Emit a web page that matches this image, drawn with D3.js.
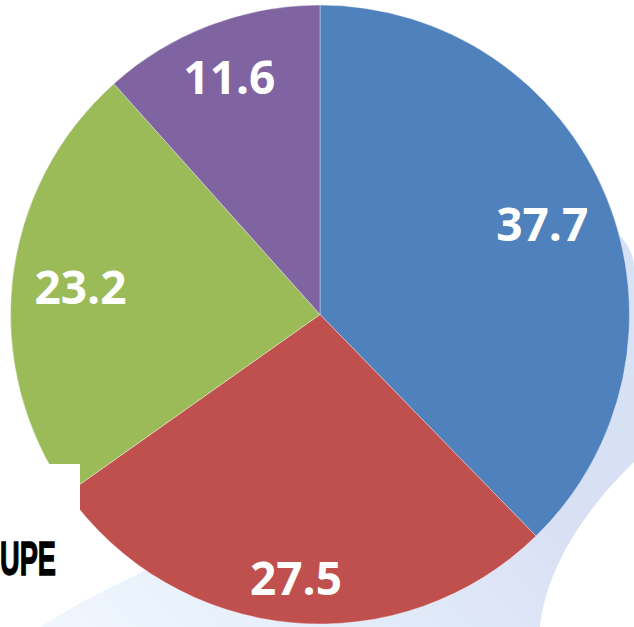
<!DOCTYPE html>
<html>
<head>
<meta charset="utf-8">
<script src="https://cdn.jsdelivr.net/npm/d3@7"></script>
<style>
  html, body { margin: 0; padding: 0; background: #ffffff; }
  svg { display: block; }
</style>
</head>
<body>
<svg id="chart" width="634" height="627"></svg>
<script>
// ---- data ----
const categories = ["A", "B", "C", "D"];
const values = [37.7, 27.5, 23.2, 11.6];
const labels = ["37.7", "27.5", "23.2", "11.6"];
const colors = ["#4f81bd", "#c0504d", "#9bbb59", "#8064a2"];
const captionText = "UPE";

const W = 634, H = 627;
const cx = 320, cy = 314.5, R = 309.5;

const svg = d3.select("#chart");

// background watermark swoosh
const defs = svg.append("defs");
const grad = defs.append("linearGradient").attr("id", "wm")
  .attr("x1", "0").attr("y1", "1").attr("x2", "1").attr("y2", "0.3");
grad.append("stop").attr("offset", "0").attr("stop-color", "#f1f7fe");
grad.append("stop").attr("offset", "0.35").attr("stop-color", "#e3edfa");
grad.append("stop").attr("offset", "0.7").attr("stop-color", "#d9e0f4");
grad.append("stop").attr("offset", "1").attr("stop-color", "#d6e2f5");

svg.append("path")
  .attr("d", "M 585,212 C 615,225 634,245 634,268 L 634,462 C 600,495 548,555 540,627 L 40,627 C 95,592 165,560 240,530 L 320,315 Z")
  .attr("fill", "url(#wm)");

// pie
const pie = d3.pie().sort(null).value(d => d);
const arcs = pie(values);
const arc = d3.arc().innerRadius(0).outerRadius(R);

const g = svg.append("g").attr("transform", `translate(${cx},${cy})`);
g.selectAll("path.slice")
  .data(arcs)
  .join("path")
  .attr("class", "slice")
  .attr("d", arc)
  .attr("fill", (d, i) => colors[i])
  .attr("stroke", "rgba(255,255,255,0.45)")
  .attr("stroke-width", 0.8);

// labels: box placed inside slice near the rim (best fit)
const fontSize = 46;
const capH = 34;
const rimR = 289;
const lbl = g.selectAll("text.lbl")
  .data(arcs)
  .join("text")
  .attr("class", "lbl")
  .attr("text-anchor", "middle")
  .attr("font-family", "'Open Sans', Lato, sans-serif")
  .attr("font-weight", "bold")
  .attr("font-size", fontSize)
  .attr("fill", "#ffffff")
  .text((d, i) => labels[i]);

lbl.each(function (d) {
  const w = this.getComputedTextLength();
  const hw = w / 2, hh = capH / 2;
  const a = (d.startAngle + d.endAngle) / 2;
  const ux = Math.sin(a), uy = -Math.cos(a);
  const b = hw * Math.abs(ux) + hh * Math.abs(uy);
  const c = hw * hw + hh * hh - rimR * rimR;
  const t = -b + Math.sqrt(b * b - c);
  d3.select(this)
    .attr("x", t * ux)
    .attr("y", t * uy + hh);
});

// white cover box and cut-off caption
svg.append("rect")
  .attr("x", 0).attr("y", 464).attr("width", 80).attr("height", 130)
  .attr("fill", "#ffffff");

svg.append("text")
  .attr("x", 0).attr("y", 575)
  .attr("font-family", "'Liberation Sans Narrow', 'Liberation Sans', Arial, sans-serif")
  .attr("font-weight", "bold")
  .attr("font-size", 49)
  .attr("textLength", 56)
  .attr("lengthAdjust", "spacingAndGlyphs")
  .attr("stroke", "#000000")
  .attr("stroke-width", 1.4)
  .attr("fill", "#000000")
  .text(captionText);
</script>
</body>
</html>
